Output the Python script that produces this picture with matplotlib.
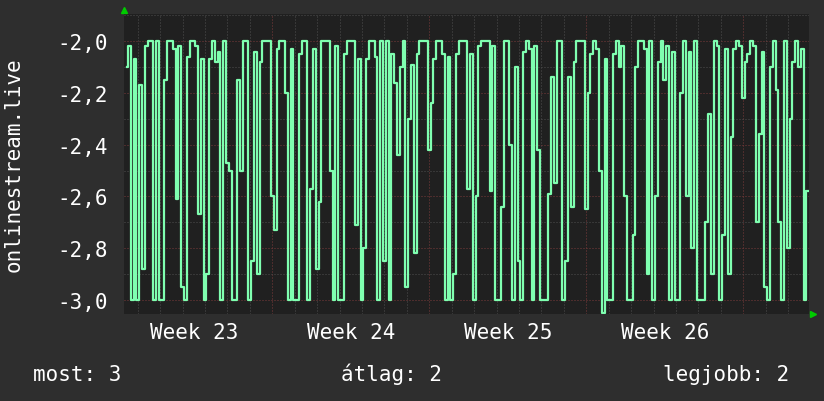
import numpy as np
import matplotlib.pyplot as plt
from matplotlib import transforms

# samples every 3 hours, days counted from the start of week 23
start_day = 0.5
step_days = 0.125
values = [
    -2.10, -2.02, -3.00, -2.07, -3.00, -2.17, -2.88, -2.02, -2.00, -2.00,
    -3.00, -2.00, -3.00, -3.00, -2.15, -2.00, -2.00, -2.03, -2.61, -2.02,
    -2.95, -3.00, -2.06, -2.00, -2.00, -2.02, -2.67, -2.07, -3.00, -2.90,
    -2.07, -2.00, -2.08, -2.04, -3.00, -2.00, -2.47, -2.50, -3.00, -3.00,
    -2.15, -2.50, -2.00, -2.00, -3.00, -2.85, -2.04, -2.90, -2.08, -2.00,
    -2.00, -2.00, -2.60, -2.73, -2.03, -2.00, -2.00, -2.20, -3.00, -2.03,
    -3.00, -3.00, -2.05, -2.00, -2.00, -3.00, -2.57, -2.03, -2.88, -2.62,
    -2.00, -2.00, -2.00, -2.50, -3.00, -2.02, -3.00, -3.00, -2.05, -2.00,
    -2.00, -2.00, -2.71, -2.07, -3.00, -2.80, -2.07, -2.00, -2.00, -2.06,
    -3.00, -2.00, -2.85, -2.00, -3.00, -2.05, -2.16, -2.44, -2.10, -2.00,
    -2.95, -2.30, -2.09, -2.82, -2.05, -2.00, -2.00, -2.00, -2.42, -2.24,
    -2.07, -2.00, -2.00, -2.05, -3.00, -2.06, -3.00, -2.90, -2.05, -2.00,
    -2.00, -2.00, -2.57, -2.05, -3.00, -2.60, -2.02, -2.00, -2.00, -2.00,
    -2.58, -2.02, -3.00, -3.00, -2.64, -2.00, -2.00, -2.40, -3.00, -2.10,
    -2.85, -3.00, -2.04, -2.00, -2.03, -3.00, -2.02, -2.42, -3.00, -3.00,
    -3.00, -2.59, -2.14, -2.55, -2.00, -2.00, -3.00, -2.85, -2.14, -2.64,
    -2.08, -2.00, -2.00, -2.00, -2.65, -2.20, -2.05, -2.00, -2.03, -2.50,
    -3.05, -2.07, -3.00, -3.00, -2.05, -2.00, -2.10, -2.02, -2.60, -3.00,
    -3.00, -2.75, -2.10, -2.00, -2.00, -2.03, -2.90, -2.00, -3.00, -2.60,
    -2.08, -2.00, -2.15, -2.02, -3.00, -2.04, -3.00, -3.00, -2.20, -2.00,
    -2.60, -2.04, -2.80, -2.00, -3.00, -3.00, -3.00, -2.70, -2.28, -2.90,
    -2.00, -2.02, -3.00, -2.75, -2.03, -2.90, -2.37, -2.03, -2.00, -2.02,
    -2.22, -2.08, -2.05, -2.00, -2.02, -2.70, -2.36, -2.04, -2.95, -3.00,
    -2.10, -2.00, -2.19, -2.70, -3.00, -2.00, -2.80, -2.30, -2.08, -2.00,
    -2.10, -2.03, -3.00, -2.58,
]
week_names = ['Week 23', 'Week 24', 'Week 25', 'Week 26']
week_starts = [0, 7, 14, 21]
y_ticks = [-2.0, -2.2, -2.4, -2.6, -2.8, -3.0]
y_labels = ['-2,0', '-2,2', '-2,4', '-2,6', '-2,8', '-3,0']
legend_items = ['most: 3', 'átlag: 2', 'legjobb: 2']

days = start_day + step_days * np.arange(len(values))

plt.rcParams['font.family'] = 'DejaVu Sans Mono'

fig = plt.figure(figsize=(8.24, 4.02), dpi=100, facecolor='#2e2e2e')
ax = fig.add_axes([124 / 824, 1 - 315 / 402, (809 - 124) / 824, (315 - 15) / 402])
ax.set_facecolor('#202020')
ax.set_axisbelow(True)

ax.plot(days, values, color='#7fffb0', lw=1.6, drawstyle='steps-mid')

ax.set_xlim(0.388, 30.93)
ax.set_ylim(-3.0553, -1.8943)

ax.set_yticks(y_ticks)
ax.set_yticklabels(y_labels)
ax.set_yticks(np.arange(-3.0, -1.85, 0.1), minor=True)
ax.set_xticks([7, 14, 21, 28])
ax.set_xticklabels([])
ax.set_xticks(np.arange(1, 31), minor=True)

ax.grid(which='major', color='#7a3a3a', ls=(0, (1, 2)), lw=0.72)
ax.grid(which='minor', color='#4e4e4e', ls=(0, (1, 2)), lw=0.72)
ax.tick_params(which='both', length=0, labelsize=15, labelcolor='white')
ax.tick_params(axis='y', pad=11.5)
for s in ax.spines.values():
    s.set_visible(False)

for name, s in zip(week_names, week_starts):
    ax.annotate(name, xy=(s + 3.5, 0), xycoords=('data', 'axes fraction'),
                xytext=(0, -6), textcoords='offset points',
                ha='center', va='top', color='white', fontsize=15)

fig.text(14 / 824, 1 - 165 / 402, 'onlinestream.live', rotation=90,
         ha='center', va='center', color='white', fontsize=15)

fig.text(33 / 824, 1 - 381 / 402, legend_items[0], ha='left', va='baseline', color='white', fontsize=15)
fig.text(341 / 824, 1 - 381 / 402, legend_items[1], ha='left', va='baseline', color='white', fontsize=15)
fig.text(663 / 824, 1 - 381 / 402, legend_items[2], ha='left', va='baseline', color='white', fontsize=15)

# little green arrow heads at the axis ends
up = transforms.offset_copy(ax.transAxes, fig=fig, x=0, y=4, units='dots')
right = transforms.offset_copy(ax.transAxes, fig=fig, x=4, y=0, units='dots')
ax.plot([0], [1], marker='^', ms=4, color='#00cc00', transform=up, clip_on=False)
ax.plot([1], [0], marker='>', ms=4, color='#00cc00', transform=right, clip_on=False)

fig.savefig('out.png', dpi=100, facecolor=fig.get_facecolor())
